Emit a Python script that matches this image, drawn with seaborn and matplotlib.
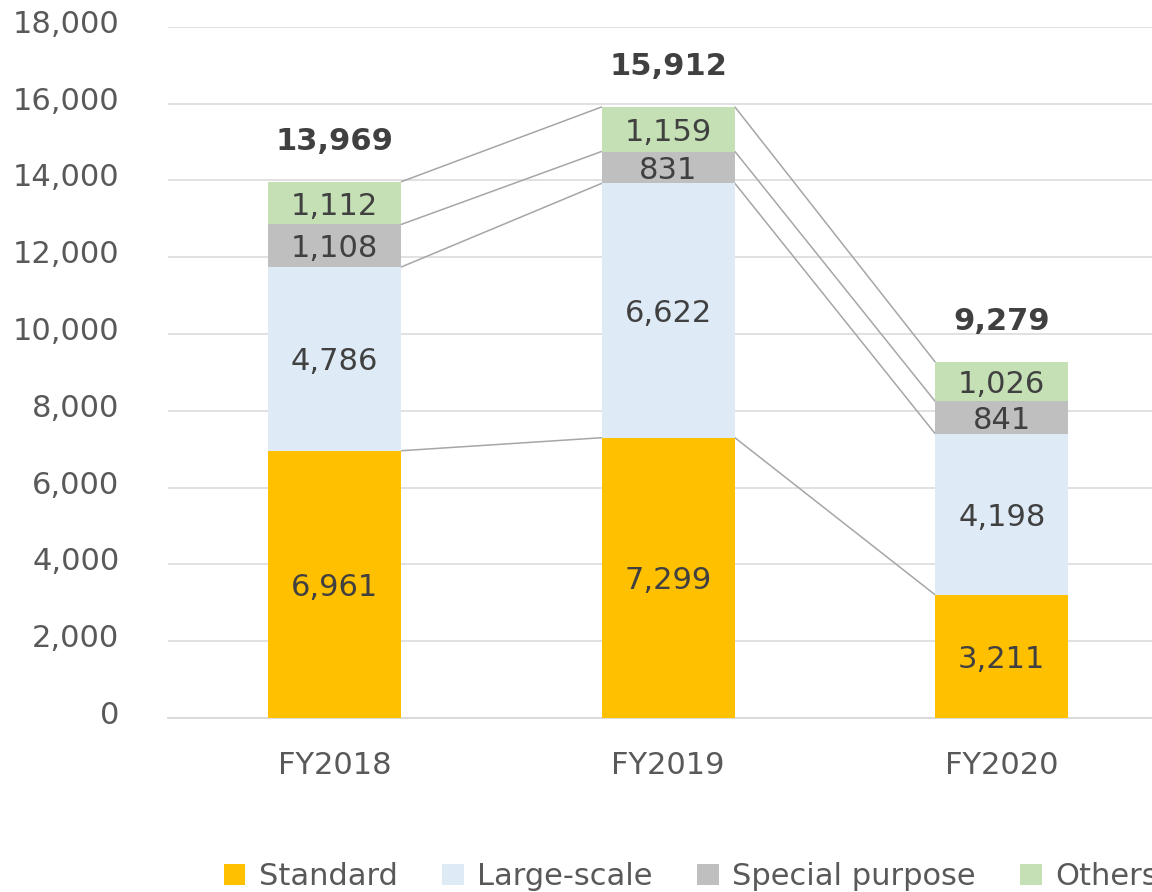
import numpy as np
import pandas as pd
import matplotlib
matplotlib.use("Agg")
import matplotlib.pyplot as plt
from matplotlib.transforms import ScaledTranslation
import seaborn as sns

# values
years = ["FY2018", "FY2019", "FY2020"]
standard = [6961, 7299, 3211]
large_scale = [4786, 6622, 4198]
special = [1108, 831, 841]
others = [1112, 1159, 1026]
totals = [13969, 15912, 9279]

series_names = ["Standard", "Large-scale", "Special purpose", "Others"]
series_colors = ["#FFC000", "#DEEBF7", "#BFBFBF", "#C5E0B4"]

sns.set_theme(style="white")
plt.rcParams["font.family"] = ["DejaVu Sans"]

txt_dark = "#404040"
txt_grey = "#595959"
bar_w = 0.4

fig = plt.figure(figsize=(11.52, 8.92), dpi=100)
ax = fig.add_axes([168 / 1152, 0.195, 1000.5 / 1152, 0.775])

layers = [standard, large_scale, special, others]
bottom = np.zeros(len(years))
tops = []
for name, vals, col in zip(series_names, layers, series_colors):
    df = pd.DataFrame({"year": years, "value": vals})
    sns.barplot(data=df, x="year", y="value", color=col, saturation=1,
                bottom=bottom, width=bar_w, linewidth=0, edgecolor="none",
                ax=ax, label=name, zorder=3)
    for i, v in enumerate(vals):
        ax.text(i, bottom[i] + v / 2, f"{v:,}", ha="center",
                va="center_baseline", fontsize=22, color=txt_dark, zorder=4)
    bottom = bottom + np.array(vals)
    tops.append(bottom.copy())

# connector lines between the segment tops
for top in tops:
    for i in range(len(years) - 1):
        ax.plot([i + bar_w / 2, i + 1 - bar_w / 2], [top[i], top[i + 1]],
                color="#A6A6A6", lw=1.1, zorder=2)

# totals above the bars
for i, t in enumerate(totals):
    ax.annotate(f"{t:,}", xy=(i, tops[-1][i]), xytext=(0, 23),
                textcoords="offset points", ha="center", va="baseline",
                fontsize=22, fontweight="bold", color=txt_dark)

ax.set_xlim(-0.5, 2.5)
ax.set_ylim(0, 18000)
ax.set_yticks(np.arange(0, 18001, 2000))
ax.yaxis.set_major_formatter(matplotlib.ticker.FuncFormatter(lambda v, p: f"{int(v):,}"))
ax.grid(axis="y", color="#D9D9D9", lw=1.1)
ax.grid(axis="x", visible=False)
ax.set_axisbelow(True)
ax.tick_params(axis="y", length=0, pad=35, labelsize=22, labelcolor=txt_grey)
ax.tick_params(axis="x", length=0, pad=24, labelsize=22, labelcolor=txt_grey)
ax.set_xlabel("")
ax.set_ylabel("")
for s in ["top", "right", "left"]:
    ax.spines[s].set_visible(False)
ax.spines["bottom"].set_color("#D9D9D9")
ax.spines["bottom"].set_linewidth(1.3)

# y labels sit a little above their gridlines
shift = ScaledTranslation(0, 4 / 72, fig.dpi_scale_trans)
for lab in ax.get_yticklabels():
    lab.set_transform(lab.get_transform() + shift)

handles, labels = ax.get_legend_handles_labels()
if ax.legend_:
    ax.legend_.remove()
fig.legend(handles, labels, loc="lower left", bbox_to_anchor=(224 / 1152, 0.001),
           ncol=4, frameon=False, fontsize=22, labelcolor=txt_grey,
           handlelength=0.7, handleheight=0.7, handletextpad=0.45,
           columnspacing=1.45, borderpad=0, borderaxespad=0)

fig.savefig("out.png", dpi=100)
